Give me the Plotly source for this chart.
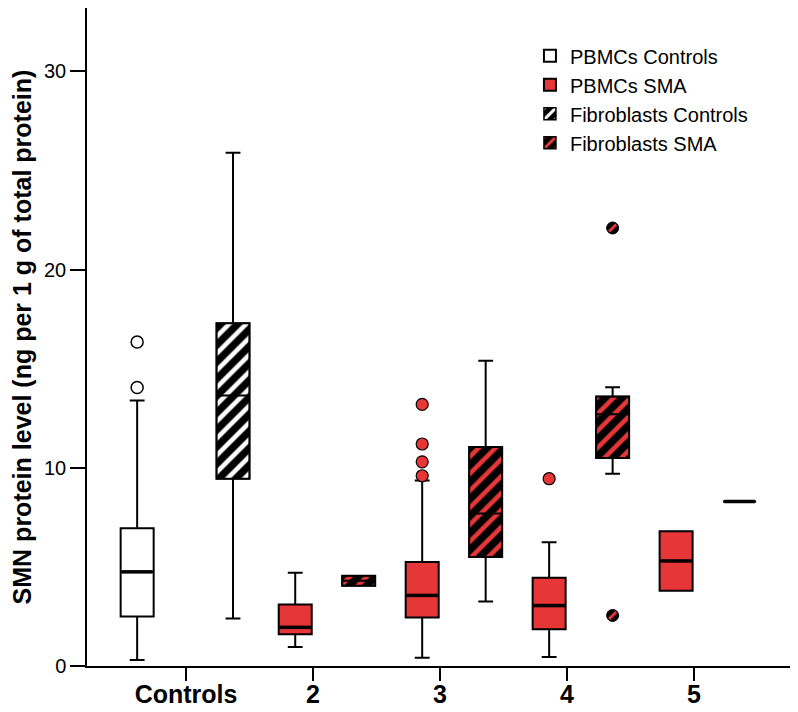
import plotly.graph_objects as go

categories = ["Controls", "2", "3", "4", "5"]
cat_index = list(range(len(categories)))

# PBMCs, controls (category "Controls" only)
pbmc_ctrl_cat = [0]
pbmc_ctrl_lo = [0.3]
pbmc_ctrl_q1 = [2.5]
pbmc_ctrl_med = [4.75]
pbmc_ctrl_q3 = [6.95]
pbmc_ctrl_hi = [13.4]
pbmc_ctrl_out = [14.05, 16.35]

# Fibroblasts, controls
fib_ctrl_cat = [0]
fib_ctrl_lo = [2.4]
fib_ctrl_q1 = [9.45]
fib_ctrl_med = [13.65]
fib_ctrl_q3 = [17.3]
fib_ctrl_hi = [25.9]

# PBMCs, SMA types 2..5
pbmc_sma_cat = [1, 2, 3, 4]
pbmc_sma_lo = [0.96, 0.42, 0.45, 3.8]
pbmc_sma_q1 = [1.6, 2.45, 1.85, 3.8]
pbmc_sma_med = [1.95, 3.56, 3.05, 5.3]
pbmc_sma_q3 = [3.1, 5.25, 4.45, 6.8]
pbmc_sma_hi = [4.7, 9.36, 6.25, 6.8]
pbmc_sma_out_cat = [2, 2, 2, 2, 3]
pbmc_sma_out = [9.6, 10.3, 11.2, 13.2, 9.45]

# Fibroblasts, SMA types 2..5
fib_sma_cat = [1, 2, 3, 4]
fib_sma_lo = [4.05, 3.26, 9.7, 8.3]
fib_sma_q1 = [4.05, 5.5, 10.5, 8.3]
fib_sma_med = [4.3, 7.7, 12.7, 8.3]
fib_sma_q3 = [4.55, 11.05, 13.6, 8.3]
fib_sma_hi = [4.55, 15.4, 14.07, 8.3]
fib_sma_out_cat = [3, 3]
fib_sma_out = [2.55, 22.1]

RED = "#E63638"
FONT = "Liberation Sans, Arial, sans-serif"
BW = 0.26


def pos(cats, shift):
    return [c + shift for c in cats]


fig = go.Figure()

# hatched bodies for fibroblast boxes
for name, cats, q1, q3, stripe, rank in [
    ("Fibroblasts Controls", fib_ctrl_cat, fib_ctrl_q1, fib_ctrl_q3, "white", 3),
    ("Fibroblasts SMA", fib_sma_cat, fib_sma_q1, fib_sma_q3, RED, 4),
]:
    shift = 0.37 if rank == 3 else 0.36
    fig.add_trace(go.Bar(
        name=name, x=pos(cats, shift), base=q1,
        y=[b - a for a, b in zip(q1, q3)], width=BW,
        marker=dict(color="black", line=dict(color="black", width=1.5),
                    pattern=dict(shape="/", fgcolor=stripe, bgcolor="black",
                                 fillmode="overlay", fgopacity=1, size=12,
                                 solidity=0.38)),
        legendrank=rank, hoverinfo="skip",
    ))

boxes = [
    ("PBMCs Controls", pbmc_ctrl_cat, -0.385, pbmc_ctrl_lo, pbmc_ctrl_q1, pbmc_ctrl_med,
     pbmc_ctrl_q3, pbmc_ctrl_hi, "white", True, 1),
    ("PBMCs SMA", pbmc_sma_cat, -0.14, pbmc_sma_lo, pbmc_sma_q1, pbmc_sma_med,
     pbmc_sma_q3, pbmc_sma_hi, RED, True, 2),
    ("Fibroblasts Controls", fib_ctrl_cat, 0.37, fib_ctrl_lo, fib_ctrl_q1, fib_ctrl_med,
     fib_ctrl_q3, fib_ctrl_hi, "rgba(0,0,0,0)", False, 3),
    ("Fibroblasts SMA", fib_sma_cat, 0.36, fib_sma_lo, fib_sma_q1, fib_sma_med,
     fib_sma_q3, fib_sma_hi, "rgba(0,0,0,0)", False, 4),
]
for name, cats, shift, lo, q1, med, q3, hi, fill, legend, rank in boxes:
    fig.add_trace(go.Box(
        name=name, x=pos(cats, shift), lowerfence=lo, q1=q1, median=med,
        q3=q3, upperfence=hi, width=BW, whiskerwidth=0.45, boxpoints=False,
        fillcolor=fill, line=dict(color="black", width=2),
        showlegend=legend, legendrank=rank,
    ))
    # heavier median stroke (solid boxes, and single-value groups)
    mx = [x for x, a, b in zip(pos(cats, shift), q1, q3) if fill != "rgba(0,0,0,0)" or a == b]
    my = [m for m, a, b in zip(med, q1, q3) if fill != "rgba(0,0,0,0)" or a == b]
    if mx:
        fig.add_trace(go.Scatter(
            x=mx, y=my, mode="markers", showlegend=False, hoverinfo="skip",
            marker=dict(symbol="line-ew", size=22,
                        line=dict(color="black", width=3.5))))

# outliers
fig.add_trace(go.Scatter(
    x=pos([0] * len(pbmc_ctrl_out), -0.385), y=pbmc_ctrl_out, mode="markers",
    marker=dict(symbol="circle", size=12, color="white",
                line=dict(color="black", width=1.5)), showlegend=False))
fig.add_trace(go.Scatter(
    x=pos(pbmc_sma_out_cat, -0.14), y=pbmc_sma_out, mode="markers",
    marker=dict(symbol="circle", size=12, color=RED,
                line=dict(color="black", width=1.2)), showlegend=False))
fig.add_trace(go.Scatter(
    x=pos(fib_sma_out_cat, 0.36), y=fib_sma_out, mode="markers",
    marker=dict(symbol="circle", size=12, color="black",
                line=dict(color="black", width=1)), showlegend=False))
fig.add_trace(go.Scatter(
    x=pos(fib_sma_out_cat, 0.36), y=fib_sma_out, mode="markers",
    marker=dict(symbol="line-ne", size=7, line=dict(color=RED, width=3)),
    showlegend=False))

# page body adds an 8px offset, so the figure is 8px smaller on each axis
fig.update_layout(
    width=790, height=704,
    margin=dict(l=79, r=0, t=0, b=46),
    paper_bgcolor="white", plot_bgcolor="white",
    boxmode="overlay", barmode="overlay",
    font=dict(family=FONT, color="black"),
    legend=dict(x=0.623, y=0.957, xanchor="left", yanchor="top",
                font=dict(size=20, family=FONT), bgcolor="rgba(0,0,0,0)",
                tracegroupgap=0),
    showlegend=True,
)
fig.update_xaxes(
    range=[-0.78, 4.82], tickvals=cat_index, ticktext=categories,
    showline=True, linecolor="black", linewidth=1.5, showgrid=False,
    zeroline=False, ticks="outside", ticklen=13, tickwidth=1.5,
    tickcolor="black", tickfont=dict(size=25, family=FONT, weight="bold"),
    ticklabelstandoff=-8, automargin=False,
)
fig.update_yaxes(
    range=[0, 33.2], tickvals=[0, 10, 20, 30],
    showline=True, linecolor="black", linewidth=1.5, showgrid=False,
    zeroline=False, ticks="outside", ticklen=15, tickwidth=1.5,
    tickcolor="black", tickfont=dict(size=20, family=FONT),
    automargin=False,
    title=dict(text="SMN protein level (ng per 1 g of total protein)",
               font=dict(size=25, family=FONT, weight="bold")),
)

fig.write_html("out.html")
